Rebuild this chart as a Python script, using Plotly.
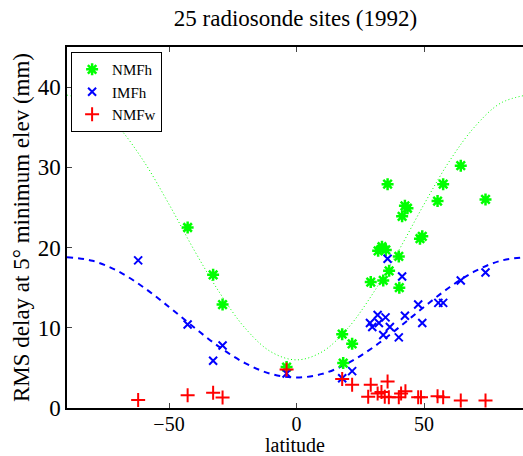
import plotly.graph_objects as go

# Model curves (every 10 degrees of latitude)
curve_lat = [-90, -80, -70, -60, -50, -40, -30, -20, -10, 0, 10, 20, 30, 40, 50, 60, 70, 80, 90]
nmfh_curve = [39.0, 38.0, 35.1, 30.8, 25.4, 19.6, 14.3, 9.9, 7.0, 6.0, 7.0, 9.9, 14.3, 19.6, 25.4, 30.8, 35.1, 38.0, 39.0]
imfh_curve = [18.8, 18.35, 17.05, 15.05, 12.6, 10.0, 7.55, 5.56, 4.25, 3.8, 4.25, 5.56, 7.55, 10.0, 12.6, 15.05, 17.05, 18.35, 18.8]

# NMFh (green stars)
nmfh_lat = [-42.7, -32.7, -29.0, -3.9, 17.9, 21.8, 18.3, 29.1, 32.0, 33.5, 35.0, 34.0, 36.3, 35.7,
            40.1, 40.3, 41.4, 42.5, 43.5, 48.4, 49.3, 55.3, 57.5, 64.4, 74.1]
nmfh_val = [22.5, 16.6, 12.9, 5.1, 9.2, 8.0, 5.6, 15.7, 19.6, 20.1, 19.7, 15.9, 17.1, 27.9,
            18.9, 15.0, 23.9, 25.2, 24.9, 21.1, 21.4, 25.8, 27.9, 30.2, 26.0]

# IMFh (blue x)
imfh_lat = [-62.1, -42.7, -32.7, -29.0, -3.9, 17.9, 21.8, 28.8, 29.7, 31.8, 32.3, 34.9, 36.6, 34.0,
            40.1, 42.5, 49.3, 47.7, 55.6, 57.5, 64.4, 74.1, 35.7, 41.4]
imfh_val = [18.4, 10.4, 5.9, 7.8, 4.3, 3.7, 4.6, 10.6, 10.1, 11.6, 10.6, 11.3, 10.1, 9.1,
            8.8, 11.5, 10.6, 12.9, 13.1, 13.1, 15.9, 16.9, 18.6, 16.4]

# NMFw (red +)
nmfw_lat = [-62.1, -42.7, -32.7, -29.0, -3.9, 17.9, 21.8, 29.1, 35.7, 28.1, 31.8, 33.3, 34.6, 36.2,
            40.1, 41.0, 42.7, 47.7, 48.8, 55.3, 57.5, 64.4, 74.1]
nmfw_val = [1.0, 1.6, 1.9, 1.3, 4.8, 3.6, 2.9, 2.9, 3.3, 1.4, 1.8, 2.0, 1.4, 1.35,
            1.35, 1.8, 2.1, 1.35, 1.35, 1.45, 1.35, 0.95, 0.95]

x_tickvals = [-50, 0, 50]
x_ticktext = ["\u221250", "0", "50"]
y_tickvals = [0, 10, 20, 30, 40]

FONT = "Liberation Serif"
GREEN, BLUE, RED = "#00ff00", "#0000ff", "#ff0000"

fig = go.Figure()
fig.add_trace(go.Scatter(x=curve_lat, y=nmfh_curve, mode="lines",
                         line=dict(color=GREEN, width=1, dash="1px,2.5px", shape="spline"),
                         showlegend=False, hoverinfo="skip"))
fig.add_trace(go.Scatter(x=curve_lat, y=imfh_curve, mode="lines",
                         line=dict(color=BLUE, width=2, dash="6px,5px", shape="spline"),
                         showlegend=False, hoverinfo="skip"))
fig.add_trace(go.Scatter(x=nmfh_lat, y=nmfh_val, mode="markers", name="NMFh",
                         marker=dict(symbol="asterisk-open", size=10, color=GREEN, line=dict(color=GREEN, width=2.5))))
fig.add_trace(go.Scatter(x=imfh_lat, y=imfh_val, mode="markers", name="IMFh",
                         marker=dict(symbol="x-thin-open", size=8, color=BLUE, line=dict(color=BLUE, width=2))))
fig.add_trace(go.Scatter(x=nmfw_lat, y=nmfw_val, mode="markers", name="NMFw",
                         marker=dict(symbol="cross-thin-open", size=10, color=RED, line=dict(color=RED, width=2))))

fig.update_layout(
    width=523, height=456,
    margin=dict(l=67, r=0, t=47, b=48),
    paper_bgcolor="white", plot_bgcolor="white",
    font=dict(family=FONT, size=23, color="black"),
    title=dict(text="25 radiosonde sites (1992)", x=295.5/523, xanchor="center", y=1 - 18/456, yanchor="middle",
               font=dict(family=FONT, size=23, color="black")),
    legend=dict(x=0.009, y=0.986, xanchor="left", yanchor="top", bgcolor="white",
                bordercolor="black", borderwidth=1, font=dict(family=FONT, size=15, color="black"),
                tracegroupgap=0),
    showlegend=True,
    annotations=[dict(text="latitude", xref="paper", yref="paper", x=(295 - 67) / 456, y=(408 - 457) / 361,
                      xanchor="center", yanchor="bottom", showarrow=False, borderpad=0,
                      font=dict(family=FONT, size=20, color="black"))],
)
fig.update_xaxes(range=[-90, 88.8], tickvals=x_tickvals, ticktext=x_ticktext,
                 tickfont=dict(family=FONT, size=20, color="black"), ticklabelstandoff=-3,
                 ticks="inside", ticklen=5, tickcolor="#444", showgrid=False, zeroline=False,
                 showline=True, linecolor="black", linewidth=1.5, mirror="ticks", automargin=False)
fig.update_yaxes(range=[0, 45], tickvals=y_tickvals,
                 tickfont=dict(family=FONT, size=23, color="black"),
                 ticks="inside", ticklen=5, tickcolor="#444", showgrid=False, zeroline=False,
                 showline=True, linecolor="black", linewidth=1.5, automargin=False,
                 title=dict(text="RMS delay at 5\u00b0 minimum elev (mm)", standoff=2, font=dict(family=FONT, size=23)))

fig.write_html("out.html", config={"displayModeBar": False},
               post_script="document.body.style.margin='0';document.body.style.overflow='hidden';")
